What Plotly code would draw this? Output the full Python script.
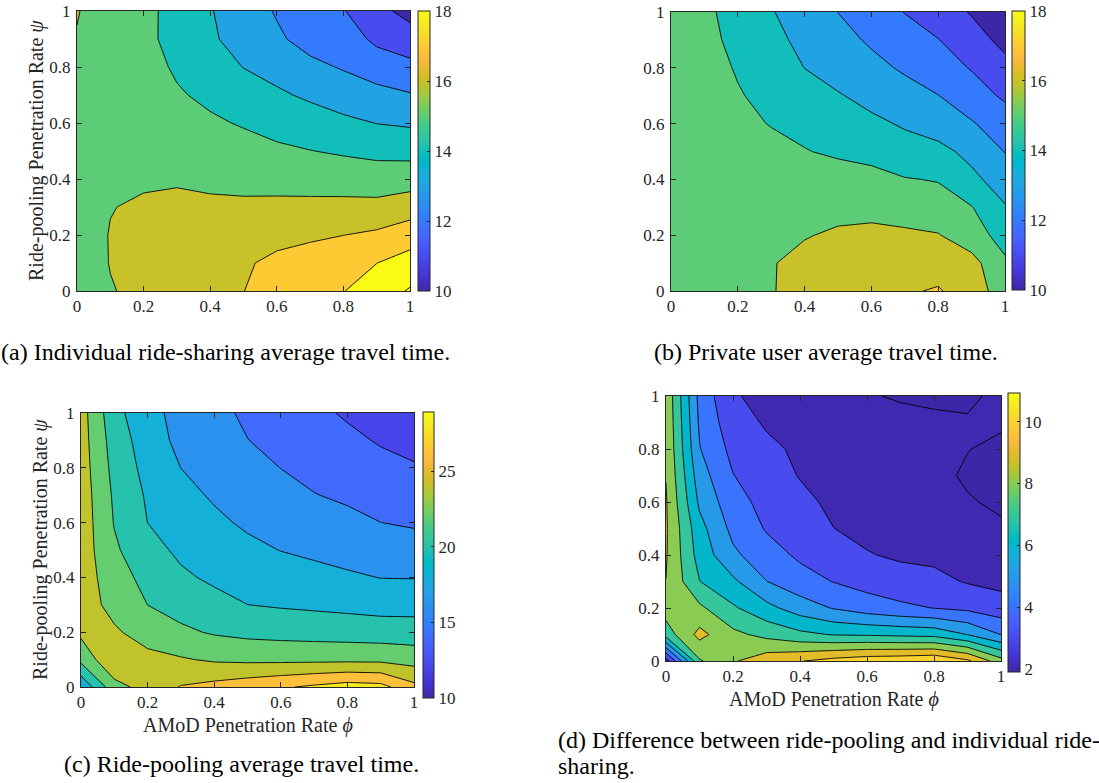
import plotly.graph_objects as go

W, H = 1099, 783
SERIF = "Liberation Serif, Times New Roman, serif"
INK = "#262626"

# ---------------- data ----------------
phi = [0.0, 0.1, 0.2, 0.3, 0.4, 0.5, 0.6, 0.7, 0.8, 0.9, 1.0]   # AMoD penetration rate (x)
psi = [0.0, 0.1, 0.2, 0.3, 0.4, 0.5, 0.6, 0.7, 0.8, 0.9, 1.0]   # ride-pooling penetration rate (y)
axis_tick_vals = [0, 0.2, 0.4, 0.6, 0.8, 1]
axis_tick_text = ["0", "0.2", "0.4", "0.6", "0.8", "1"]

# rows follow psi (0 -> 1), columns follow phi (0 -> 1)
individual_time = [
    [15.68, 15.95, 16.21, 16.47, 16.74, 16.99, 17.32, 17.65, 17.97, 18.51, 19.09],
    [15.50, 16.03, 16.24, 16.45, 16.65, 16.88, 17.22, 17.45, 17.73, 17.99, 18.41],
    [15.50, 16.04, 16.22, 16.35, 16.40, 16.50, 16.71, 16.84, 16.99, 17.17, 17.54],
    [15.50, 15.97, 16.12, 16.20, 16.15, 16.15, 16.20, 16.23, 16.26, 16.26, 16.53],
    [15.50, 15.80, 15.88, 15.91, 15.83, 15.76, 15.69, 15.62, 15.56, 15.50, 15.56],
    [15.50, 15.70, 15.72, 15.64, 15.48, 15.35, 15.17, 15.02, 14.88, 14.74, 14.69],
    [15.55, 15.65, 15.60, 15.37, 15.14, 14.92, 14.65, 14.44, 14.20, 13.98, 13.87],
    [15.60, 15.60, 15.48, 15.10, 14.80, 14.45, 14.14, 13.85, 13.54, 13.29, 13.07],
    [15.70, 15.55, 15.38, 14.87, 14.42, 13.98, 13.68, 13.23, 12.92, 12.54, 12.25],
    [15.95, 15.55, 15.25, 14.67, 14.10, 13.73, 13.15, 12.65, 12.50, 11.79, 11.46],
    [16.05, 15.50, 15.25, 14.68, 14.06, 13.48, 12.92, 12.45, 12.05, 11.30, 10.67],
]

private_time = [
    [15.60, 15.65, 15.80, 15.95, 16.30, 16.55, 16.70, 16.88, 17.10, 16.40, 15.60],
    [15.60, 15.65, 15.80, 15.95, 16.24, 16.40, 16.50, 16.50, 16.50, 16.34, 15.15],
    [15.60, 15.60, 15.70, 15.80, 15.95, 16.12, 16.20, 16.15, 16.05, 15.44, 14.62],
    [15.60, 15.60, 15.60, 15.65, 15.70, 15.75, 15.75, 15.60, 15.40, 15.04, 14.07],
    [15.60, 15.60, 15.60, 15.60, 15.55, 15.50, 15.40, 15.05, 14.95, 14.24, 13.51],
    [15.60, 15.50, 15.38, 15.25, 15.05, 14.82, 14.59, 14.36, 14.30, 13.71, 12.97],
    [15.73, 15.47, 15.22, 14.96, 14.70, 14.45, 14.19, 13.90, 13.49, 13.08, 12.50],
    [15.74, 15.41, 15.07, 14.74, 14.40, 14.07, 13.72, 13.37, 13.02, 12.44, 11.85],
    [15.85, 15.38, 14.92, 14.45, 13.99, 13.62, 13.26, 12.87, 12.42, 11.94, 11.27],
    [15.77, 15.26, 14.76, 14.25, 13.77, 13.31, 12.87, 12.45, 12.03, 11.39, 10.74],
    [15.77, 15.20, 14.63, 14.06, 13.53, 12.99, 12.48, 11.97, 11.45, 10.93, 10.40],
]

pooling_time = [
    [18.30, 23.30, 24.75, 26.11, 26.62, 27.19, 27.76, 28.33, 28.90, 28.65, 26.54],
    [22.57, 25.75, 24.50, 24.18, 23.75, 23.59, 23.55, 23.55, 23.55, 23.53, 23.19],
    [24.43, 24.24, 23.25, 22.36, 21.80, 21.48, 21.32, 21.20, 21.10, 20.97, 20.91],
    [24.88, 23.44, 21.99, 21.25, 20.61, 20.01, 19.81, 19.66, 19.49, 19.30, 19.29],
    [24.99, 22.96, 21.32, 20.31, 19.67, 19.21, 18.88, 18.58, 18.26, 17.96, 17.93],
    [25.10, 22.30, 20.66, 19.63, 19.01, 18.42, 17.96, 17.64, 17.32, 16.99, 16.82],
    [25.17, 21.90, 19.99, 19.09, 18.35, 17.73, 17.30, 16.85, 16.47, 16.01, 15.78],
    [25.10, 21.70, 19.75, 18.54, 17.79, 17.16, 16.63, 16.06, 15.71, 15.28, 14.98],
    [24.98, 21.40, 19.35, 17.99, 17.35, 16.59, 15.98, 15.50, 15.06, 14.56, 14.18],
    [24.88, 21.10, 19.00, 17.48, 16.92, 16.03, 15.52, 14.97, 14.42, 13.83, 13.37],
    [24.83, 20.65, 18.59, 17.40, 16.48, 15.70, 15.06, 14.43, 13.77, 13.11, 12.57],
]

pooling_minus_individual = [
    [2.50, 7.89, 8.89, 9.60, 9.95, 10.36, 10.64, 10.75, 10.93, 10.20, 8.40],
    [7.50, 9.30, 8.24, 7.71, 7.24, 6.94, 6.88, 6.78, 6.68, 5.98, 4.98],
    [8.45, 8.20, 7.14, 6.30, 5.50, 4.94, 4.50, 4.19, 3.98, 3.78, 3.42],
    [8.99, 7.02, 6.19, 5.02, 4.38, 3.97, 3.63, 3.42, 3.24, 2.93, 2.75],
    [9.08, 6.60, 5.20, 4.40, 3.84, 3.49, 3.06, 2.85, 2.80, 2.50, 2.37],
    [9.12, 6.35, 4.72, 3.92, 3.54, 3.01, 2.75, 2.62, 2.44, 2.25, 2.05],
    [9.08, 5.81, 4.38, 3.68, 3.25, 2.80, 2.60, 2.45, 2.27, 2.03, 1.94],
    [8.97, 5.44, 4.03, 3.43, 2.95, 2.71, 2.49, 2.30, 2.10, 1.95, 1.90],
    [8.90, 5.05, 3.71, 3.19, 2.85, 2.61, 2.35, 2.27, 2.12, 2.01, 1.92],
    [8.85, 4.85, 3.39, 2.90, 2.75, 2.35, 2.30, 2.15, 2.10, 2.04, 2.05],
    [8.80, 4.70, 3.10, 2.70, 2.42, 2.22, 2.04, 1.95, 1.90, 1.92, 2.10],
]

# ---------------- parula colormap ----------------
PARULA = [
    (0.2422, 0.1504, 0.6603), (0.2504, 0.1650, 0.7076), (0.2578, 0.1818, 0.7511), (0.2647, 0.1978, 0.7952),
    (0.2706, 0.2147, 0.8364), (0.2751, 0.2342, 0.8710), (0.2783, 0.2559, 0.8991), (0.2803, 0.2782, 0.9221),
    (0.2813, 0.3006, 0.9414), (0.2810, 0.3228, 0.9579), (0.2795, 0.3447, 0.9717), (0.2760, 0.3667, 0.9829),
    (0.2699, 0.3892, 0.9906), (0.2602, 0.4123, 0.9952), (0.2440, 0.4358, 0.9988), (0.2206, 0.4603, 0.9973),
    (0.1963, 0.4847, 0.9892), (0.1834, 0.5074, 0.9798), (0.1786, 0.5289, 0.9682), (0.1764, 0.5499, 0.9520),
    (0.1687, 0.5703, 0.9359), (0.1540, 0.5902, 0.9218), (0.1460, 0.6091, 0.9079), (0.1380, 0.6276, 0.8973),
    (0.1248, 0.6459, 0.8883), (0.1113, 0.6635, 0.8763), (0.0952, 0.6798, 0.8598), (0.0689, 0.6948, 0.8394),
    (0.0297, 0.7082, 0.8163), (0.0036, 0.7203, 0.7917), (0.0067, 0.7312, 0.7660), (0.0433, 0.7411, 0.7394),
    (0.0964, 0.7500, 0.7120), (0.1408, 0.7584, 0.6842), (0.1717, 0.7670, 0.6554), (0.1938, 0.7758, 0.6251),
    (0.2161, 0.7843, 0.5923), (0.2470, 0.7918, 0.5567), (0.2906, 0.7973, 0.5188), (0.3406, 0.8008, 0.4789),
    (0.3909, 0.8029, 0.4354), (0.4456, 0.8024, 0.3909), (0.5044, 0.7993, 0.3480), (0.5616, 0.7942, 0.3045),
    (0.6174, 0.7876, 0.2612), (0.6720, 0.7793, 0.2227), (0.7242, 0.7698, 0.1910), (0.7738, 0.7598, 0.1646),
    (0.8203, 0.7498, 0.1535), (0.8634, 0.7406, 0.1596), (0.9035, 0.7330, 0.1774), (0.9393, 0.7288, 0.2100),
    (0.9728, 0.7298, 0.2394), (0.9956, 0.7434, 0.2371), (0.9970, 0.7659, 0.2199), (0.9952, 0.7893, 0.2028),
    (0.9892, 0.8136, 0.1885), (0.9786, 0.8386, 0.1766), (0.9676, 0.8639, 0.1643), (0.9610, 0.8890, 0.1537),
    (0.9597, 0.9135, 0.1423), (0.9628, 0.9373, 0.1265), (0.9691, 0.9606, 0.1064), (0.9769, 0.9839, 0.0805),
]


def rgb(c):
    return "rgb(%d,%d,%d)" % tuple(int(round(v * 255)) for v in c)


def parula(t):
    t = min(max(t, 0.0), 1.0)
    f = t * (len(PARULA) - 1)
    i = int(f)
    if i >= len(PARULA) - 1:
        return rgb(PARULA[-1])
    w = f - i
    a, b = PARULA[i], PARULA[i + 1]
    return rgb(tuple(a[k] * (1 - w) + b[k] * w for k in range(3)))


PARULA_SCALE = [[i / (len(PARULA) - 1), rgb(c)] for i, c in enumerate(PARULA)]


def band_scale(start, end, size, cmin, cmax):
    """Colorscale so each filled band gets MATLAB's colour (colour of its lower level)."""
    n = int(round((end - start) / size)) + 1
    span = cmax - cmin
    scale = [[0.0, parula((start - size - cmin) / span)]]
    for k in range(n):
        level = start + k * size
        scale.append([(k + 1) / n, parula((level - cmin) / span)])
    return scale


def px_x(v):
    return v / W


def px_y(v):
    return 1 - v / H


panels = [
    dict(z=individual_time, start=10, end=19, size=1, cmin=10, cmax=18,
         cticks=[10, 12, 14, 16, 18], box=(77, 410, 11, 291), cbar=(418, 430, 11, 291)),
    dict(z=private_time, start=10, end=19, size=1, cmin=10, cmax=18,
         cticks=[10, 12, 14, 16, 18], box=(671, 1005, 12, 291), cbar=(1012, 1025, 11, 290)),
    dict(z=pooling_time, start=12, end=28, size=2, cmin=10, cmax=28.9,
         cticks=[10, 15, 20, 25], box=(81, 414, 413, 687), cbar=(423, 434, 412, 698)),
    dict(z=pooling_minus_individual, start=2, end=10, size=1, cmin=1.9, cmax=10.93,
         cticks=[2, 4, 6, 8, 10], box=(666, 1001, 396, 661), cbar=(1008, 1020, 393, 672)),
]

fig = go.Figure()
layout = dict(
    width=W, height=H, autosize=False,
    margin=dict(l=0, r=0, t=0, b=0, pad=0, autoexpand=False),
    paper_bgcolor="white", plot_bgcolor="white",
    showlegend=False,
    annotations=[],
)

for idx, p in enumerate(panels):
    n = "" if idx == 0 else str(idx + 1)
    xa, ya = "x" + n, "y" + n
    x0, x1, y0, y1 = p["box"]
    c0, c1, cy0, cy1 = p["cbar"]

    fig.add_trace(go.Heatmap(
        x=phi, y=psi, z=p["z"], xaxis=xa, yaxis=ya,
        zmin=p["cmin"], zmax=p["cmax"], colorscale=PARULA_SCALE,
        hoverinfo="skip", showscale=True,
        colorbar=dict(
            x=px_x(c0), xanchor="left", xpad=0,
            y=px_y((cy0 + cy1) / 2), yanchor="middle", ypad=0,
            len=(cy1 - cy0) / H, lenmode="fraction",
            thickness=c1 - c0, thicknessmode="pixels",
            outlinewidth=1, outlinecolor=INK,
            tickmode="array", tickvals=p["cticks"], ticktext=[str(t) for t in p["cticks"]],
            ticks="inside", ticklen=3, tickwidth=1, tickcolor=INK,
            tickfont=dict(family=SERIF, size=17, color=INK),
        ),
    ))
    fig.add_trace(go.Contour(
        x=phi, y=psi, z=p["z"], xaxis=xa, yaxis=ya,
        autocontour=False,
        contours=dict(start=p["start"], end=p["end"], size=p["size"], coloring="fill", showlines=True),
        colorscale=band_scale(p["start"], p["end"], p["size"], p["cmin"], p["cmax"]),
        line=dict(color="black", width=0.9, smoothing=0),
        showscale=False, hoverinfo="skip",
    ))

    common = dict(
        range=[0, 1], tickmode="array", tickvals=axis_tick_vals, ticktext=axis_tick_text,
        ticks="inside", ticklen=5, tickwidth=1, tickcolor=INK,
        showline=True, linecolor=INK, linewidth=1, mirror="allticks",
        showgrid=False, zeroline=False, fixedrange=True, automargin=False,
        tickfont=dict(family=SERIF, size=17, color=INK),
    )
    layout["xaxis" + n] = dict(common, domain=[px_x(x0), px_x(x1)], anchor=ya,
                               showticklabels=True, ticklabelstandoff=0)
    layout["yaxis" + n] = dict(common, domain=[px_y(y1), px_y(y0)], anchor=xa,
                               showticklabels=True, ticklabelstandoff=2)


def note(text, x, y, size, angle=0, xanchor="center", color=INK):
    layout["annotations"].append(dict(
        text=text, x=px_x(x), y=px_y(y), xref="paper", yref="paper",
        xanchor=xanchor, yanchor="middle", showarrow=False, textangle=angle,
        font=dict(family=SERIF, size=size, color=color),
    ))


ytitle = "Ride-pooling Penetration Rate <i>ψ</i>"
xtitle = "AMoD Penetration Rate <i>ϕ</i>"
note(ytitle, 36, 151, 20, angle=-90)
note(ytitle, 40, 550, 20, angle=-90)
note(xtitle, 248, 725, 20)
note(xtitle, 834, 699, 20)

note("(a) Individual ride-sharing average travel time.", 225, 352, 24, color="black")
note("(b) Private user average travel time.", 826, 352, 24, color="black")
note("(c) Ride-pooling average travel time.", 241, 764, 24, color="black")
note("(d) Difference between ride-pooling and individual ride-", 556, 740, 24, xanchor="left", color="black")
note("sharing.", 556, 766, 24, xanchor="left", color="black")

fig.update_layout(**layout)
fig.write_html(
    "out.html",
    config={"displayModeBar": False, "responsive": False},
    post_script="document.body.style.margin='0px';document.body.style.padding='0px';"
                "document.body.style.overflow='hidden';",
)
